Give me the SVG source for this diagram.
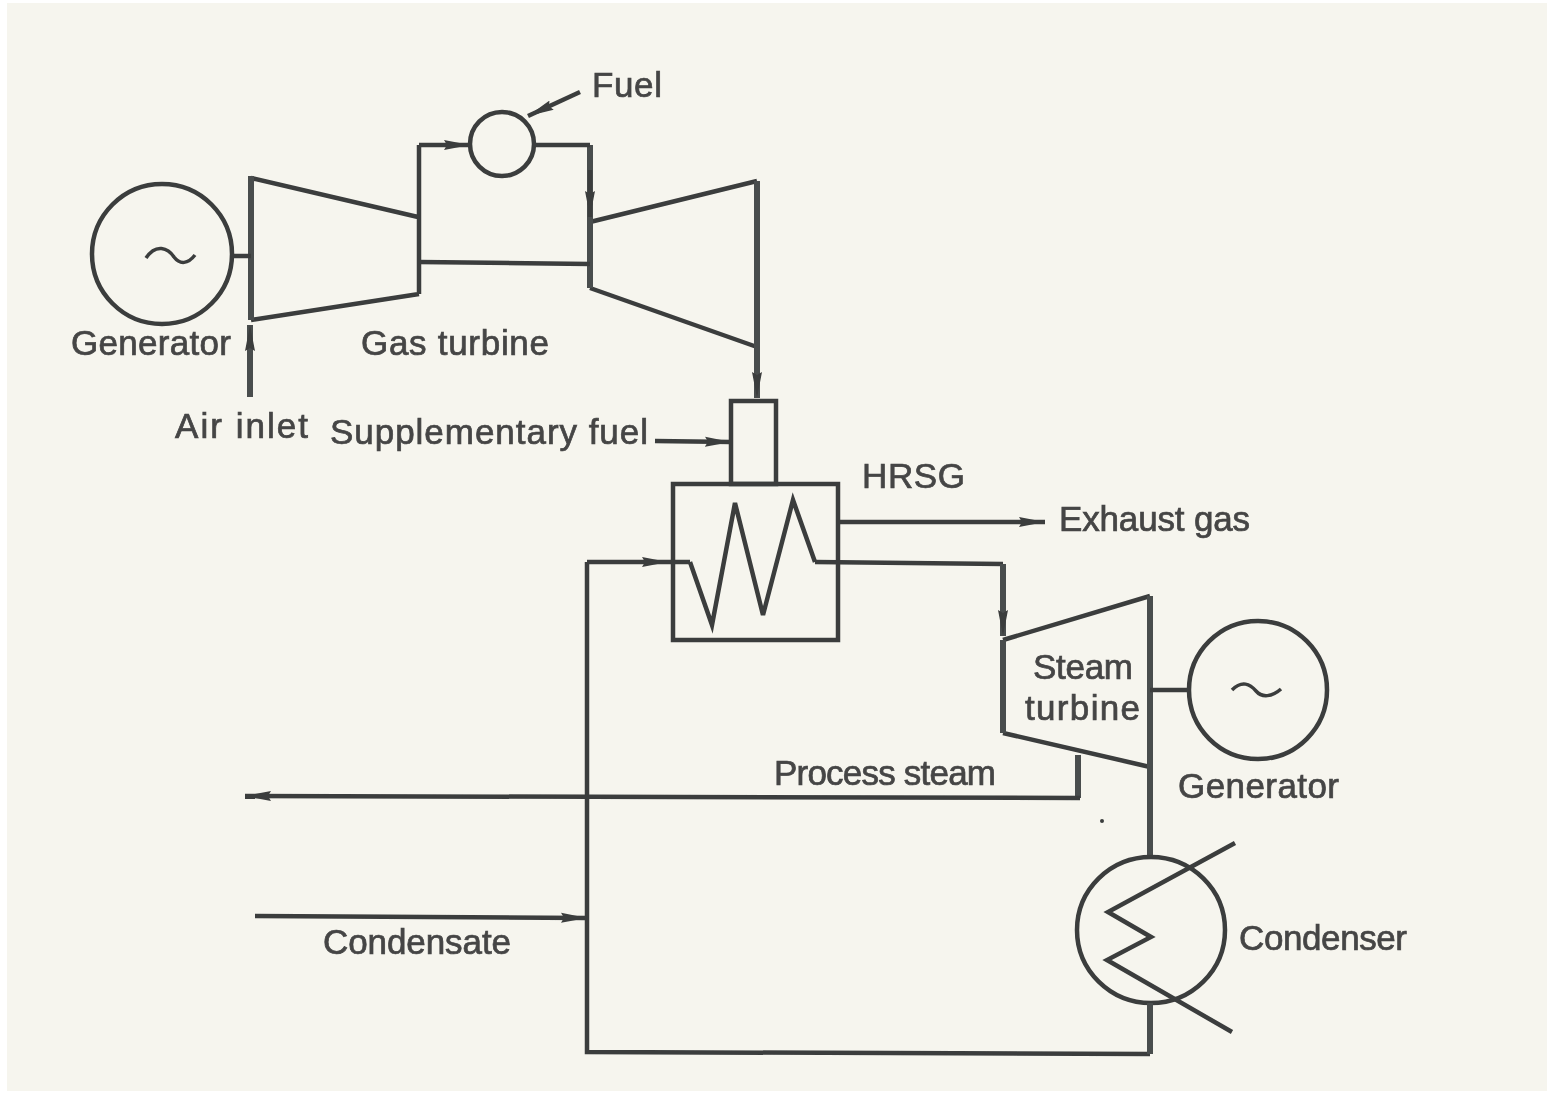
<svg xmlns="http://www.w3.org/2000/svg" width="1547" height="1094" viewBox="0 0 1547 1094">
<style>
.l{fill:none;stroke:#3b3d3d;stroke-width:4.500;stroke-linejoin:miter}
.h{fill:none;stroke:#4a4d4e;stroke-width:6}
.t{fill:none;stroke:#3b3d3d;stroke-width:3.500}
text{font-family:"Liberation Sans",Arial,sans-serif;font-size:35px;fill:#454545;stroke:#454545;stroke-width:.7}
</style>
<defs>
<marker id="a" markerUnits="userSpaceOnUse" markerWidth="28" markerHeight="16" refX="26" refY="8" orient="auto"><path d="M0 3L26 8L0 13L3 8Z" fill="#3b3d3d"/></marker>
<filter id="b" x="-5%" y="-5%" width="110%" height="110%"><feGaussianBlur stdDeviation="0.7"/></filter>
</defs>
<rect width="1547" height="1094" fill="#ffffff"/>
<rect x="7" y="3" width="1540" height="1088" fill="#f6f5ee"/>
<g filter="url(#b)">
<g id="generator-1"><circle class="l" cx="162" cy="254" r="70"/><path class="t" d="M146 258C156 243 168 248 174 257C180 265 188 264 195 255"/><text x="71" y="355" textLength="160">Generator</text></g>
<g id="compressor"><path class="l" d="M251 178L418 217M251 320L419 294M419 145V294"/><path class="h" d="M251 176V320"/></g>
<g id="turbine"><path class="l" d="M590 222L757 181M590 288L757 347"/><path class="h" d="M590 145V288M757 181V347"/><text x="361" y="355" textLength="188">Gas turbine</text></g>
<g id="combustor"><circle class="l" cx="502" cy="144" r="32"/><text x="592" y="97" textLength="70">Fuel</text></g>
<g id="hrsg"><rect class="l" x="731" y="401" width="45" height="83"/><rect class="l" x="673" y="484" width="165" height="156"/><path class="l" d="M690 562L712 625L735 503L763 615L793 500L815 562"/><text x="862" y="488" textLength="103">HRSG</text></g>
<g id="steam-turbine"><path class="l" d="M1003 640L1150 596M1150 767L1003 733"/><path class="h" d="M1003 640V733M1150 596V857"/><text x="1033" y="679" textLength="100">Steam</text><text x="1025" y="720" textLength="115">turbine</text></g>
<g id="generator-2"><circle class="l" cx="1258" cy="690" r="69"/><path class="t" d="M1232 690C1242 680 1250 684 1256 691C1262 698 1272 697 1281 689"/><text x="1178" y="798" textLength="161">Generator</text></g>
<g id="condenser"><ellipse class="l" cx="1151" cy="930" rx="74" ry="73"/><path class="l" d="M1235 843L1108 912L1151 937L1107 960L1232 1032"/><text x="1239" y="950" textLength="168">Condenser</text></g>
<g id="labels"><text x="175" y="438" textLength="133">Air inlet</text><text x="330" y="444" textLength="318">Supplementary fuel</text><text x="1059" y="531" textLength="191">Exhaust gas</text><text x="774" y="785" textLength="222">Process steam</text><text x="323" y="954" textLength="188">Condensate</text><circle cx="1102" cy="821" r="2" fill="#3b3d3d"/></g>
<g id="connectors">
<path class="l" d="M232 256H251M419 262L590 264"/>
<path class="l" marker-end="url(#a)" d="M419 145H470"/>
<path class="l" d="M534 145H590"/><path class="l" marker-end="url(#a)" d="M590 170V217"/>
<path class="l" marker-end="url(#a)" d="M580 92L528 116"/>
<path class="h" marker-end="url(#a)" d="M250 397V325"/>
<path class="h" marker-end="url(#a)" d="M757 347V398"/>
<path class="l" marker-end="url(#a)" d="M655 441L731 442"/>
<path class="l" marker-end="url(#a)" d="M840 522H1045"/>
<path class="l" marker-end="url(#a)" d="M587 562H668"/><path class="l" d="M668 562H690"/>
<path class="l" d="M815 562L1003 564"/><path class="h" marker-end="url(#a)" d="M1003 564V636"/>
<path class="l" d="M1150 690H1189"/>
<path class="h" d="M1078 755V798"/><path class="l" marker-end="url(#a)" d="M1080 798L245 796"/>
<path class="l" marker-end="url(#a)" d="M255 916L587 918"/>
<path class="l" d="M587 562V1052L1150 1054"/><path class="h" d="M1150 1054V1003"/>
</g>
</g>
</svg>
